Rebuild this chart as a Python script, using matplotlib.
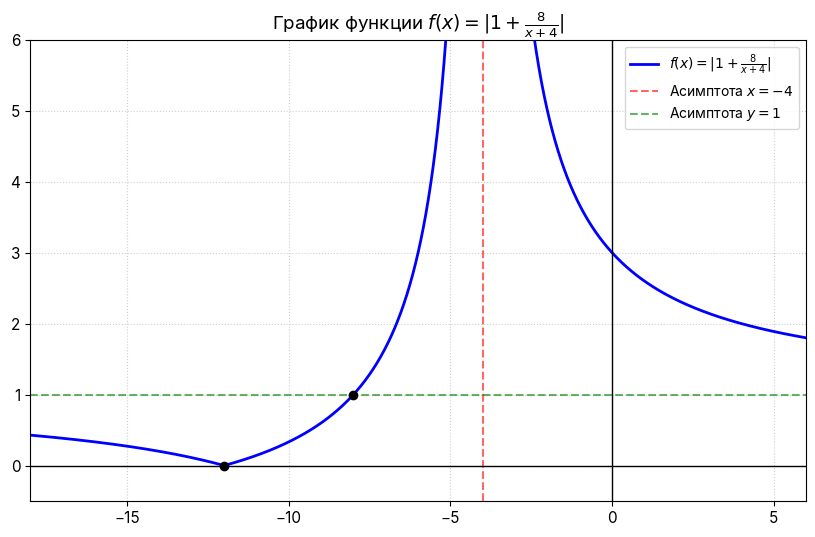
import numpy as np
import matplotlib
matplotlib.use("Agg")
import matplotlib.pyplot as plt

plt.rcParams['font.family'] = ['Inter', 'DejaVu Sans']

x_min, x_max = -18, 6
y_min, y_max = -0.5, 6
asym_x = -4
asym_y = 1
points_x = [-12, -8]
points_y = [0, 1]
xticks = [-15, -10, -5, 0, 5]
yticks = [0, 1, 2, 3, 4, 5, 6]

fig = plt.figure(figsize=(8.15, 5.37), dpi=100)
ax = fig.add_axes([0.037, 0.067, 0.952, 0.859])

x1 = np.linspace(x_min, asym_x - 0.01, 2000)
x2 = np.linspace(asym_x + 0.01, x_max, 2000)
f = lambda x: np.abs(1 + 8 / (x + 4))
ax.plot(x1, f(x1), color='blue', lw=2, label=r'$f(x) = |1 + \frac{8}{x+4}|$')
ax.plot(x2, f(x2), color='blue', lw=2)
ax.axvline(asym_x, color='red', ls='--', alpha=0.6, lw=1.5, label=r'Асимптота $x = -4$')
ax.axhline(asym_y, color='green', ls='--', alpha=0.6, lw=1.5, label=r'Асимптота $y = 1$')
ax.axhline(0, color='black', lw=1)
ax.axvline(0, color='black', lw=1)
ax.plot(points_x, points_y, 'o', color='black', ms=6, zorder=5)

ax.set_xlim(x_min, x_max)
ax.set_ylim(y_min, y_max)
ax.set_xticks(xticks)
ax.set_xticklabels(['−15', '−10', '−5', '0', '5'])
ax.set_yticks(yticks)
ax.tick_params(labelsize=11)
ax.grid(True, ls=':', alpha=0.6)
ax.set_title(r'График функции $f(x) = |1 + \frac{8}{x+4}|$', fontsize=13.5)
ax.legend(loc='upper right', fontsize=10)
fig.savefig('out.png', dpi=100)
